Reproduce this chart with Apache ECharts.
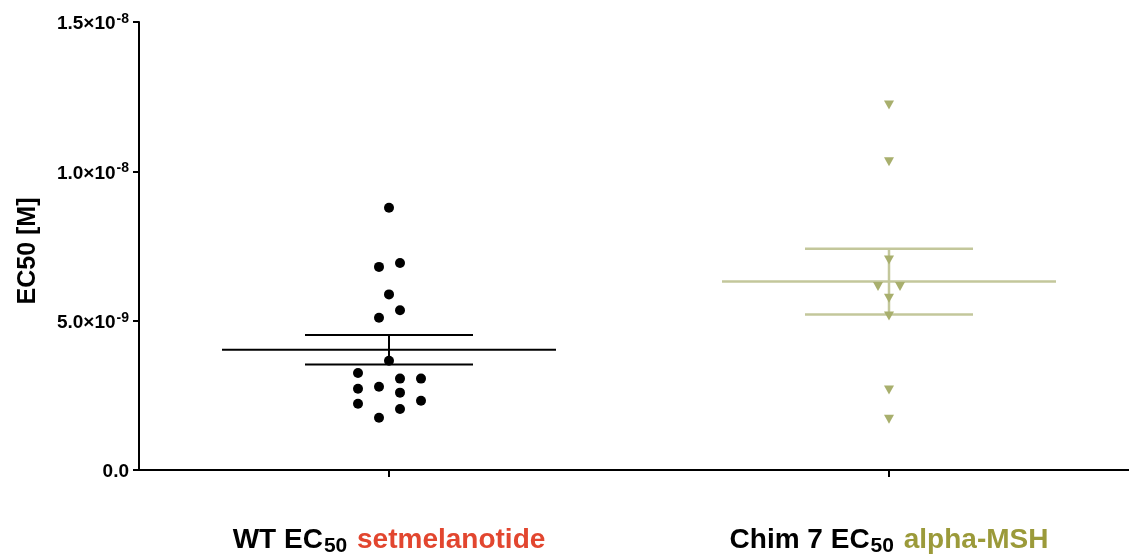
<!DOCTYPE html>
<html>
<head>
<meta charset="utf-8">
<script src="https://cdn.jsdelivr.net/npm/echarts@6/dist/echarts.min.js"></script>
<style>html,body{margin:0;padding:0;background:#fff}#c{width:1129px;height:557px}</style>
</head>
<body>
<div id="c"></div>
<script>
// ---- data ----
const categories = ['WT', 'Chim 7'];
const wtValues = [8.78e-9, 6.80e-9, 6.93e-9, 5.88e-9, 5.35e-9, 5.10e-9, 3.66e-9, 3.25e-9, 2.72e-9, 2.22e-9, 2.79e-9, 1.75e-9, 3.06e-9, 2.59e-9, 2.04e-9, 3.06e-9, 2.32e-9];
const wtJitter  = [0, -0.02, 0.022, 0, 0.022, -0.02, 0, -0.062, -0.062, -0.062, -0.02, -0.02, 0.022, 0.022, 0.022, 0.064, 0.064];
const chimValues = [12.22e-9, 10.32e-9, 7.03e-9, 6.14e-9, 6.14e-9, 5.75e-9, 5.16e-9, 2.68e-9, 1.70e-9];
const chimJitter = [0, 0, 0, -0.022, 0.022, 0, 0, 0, 0];
const means = [4.025e-9, 6.31e-9];
const sems = [0.495e-9, 1.10e-9];
const yTickValues = [0, 5e-9, 1e-8, 1.5e-8];
const yTickMantissa = ['0.0', '5.0', '1.0', '1.5'];
const yTickExponent = ['', '-9', '-8', '-8'];
const xLabelPrefix = ['WT EC', 'Chim 7 EC'];
const xLabelSub = ['50', '50'];
const xLabelAgonist = ['setmelanotide', 'alpha-MSH'];

const FONT = '"Liberation Sans", Arial, Helvetica, sans-serif';
const groupColors = ['#000000', '#a8af6d'];
const statColors = ['#000000', '#c3c79b'];
const agonistColors = ['#e2462f', '#9b9a3a'];

const chart = echarts.init(document.getElementById('c'), null, {renderer: 'canvas'});

const wtData = wtValues.map((v, i) => [0 + wtJitter[i], v]);
const chimData = chimValues.map((v, i) => [1 + chimJitter[i], v]);
const statData = means.map((m, i) => [i, m, sems[i]]);

const xRich = {
  k: {fontFamily: FONT, fontWeight: 'bold', fontSize: 28, color: '#000', lineHeight: 34},
  sub: {fontFamily: FONT, fontWeight: 'bold', fontSize: 21, color: '#000', lineHeight: 14, verticalAlign: 'bottom', padding: [0, 2, 0, 1]},
  a0: {fontFamily: FONT, fontWeight: 'bold', fontSize: 28, color: agonistColors[0], lineHeight: 34},
  a1: {fontFamily: FONT, fontWeight: 'bold', fontSize: 28, color: agonistColors[1], lineHeight: 34}
};

chart.setOption({
  animation: false,
  backgroundColor: '#fff',
  grid: {left: 139, top: 22, bottom: 87, width: 1000, containLabel: false, outerBoundsMode: 'none'},
  xAxis: [{
    type: 'category',
    data: categories,
    axisLine: {show: true, onZero: false, lineStyle: {color: '#000', width: 2}},
    axisTick: {show: true, alignWithLabel: true, length: 7, lineStyle: {color: '#000', width: 2}},
    splitLine: {show: false},
    axisLabel: {
      margin: 53,
      formatter: (v, idx) => `{k|${xLabelPrefix[idx]}}{sub|${xLabelSub[idx]}}{k| }{a${idx}|${xLabelAgonist[idx]}}`,
      rich: xRich
    }
  }, {
    type: 'value', min: -0.5, max: 1.5, show: false
  }],
  yAxis: {
    type: 'value',
    min: 0, max: 1.5e-8, interval: 5e-9,
    name: 'EC50 [M]',
    nameLocation: 'middle',
    nameRotate: 90,
    nameGap: 98,
    nameTextStyle: {fontFamily: FONT, fontWeight: 'bold', fontSize: 25, color: '#000', padding: [0, 10, 0, 0]},
    axisLine: {show: true, onZero: false, lineStyle: {color: '#000', width: 2}},
    axisTick: {show: true, length: 6, lineStyle: {color: '#000', width: 2}},
    splitLine: {show: false},
    axisLabel: {
      margin: 10,
      padding: [4, 0, 0, 0],
      formatter: (v) => {
        let i = yTickValues.findIndex(t => Math.abs(t - v) < 1e-12);
        if (i < 0) return '';
        if (!yTickExponent[i]) return `{b|${yTickMantissa[i]}}`;
        return `{b|${yTickMantissa[i]}×10}{s|${yTickExponent[i]}}`;
      },
      rich: {
        b: {fontFamily: FONT, fontWeight: 'bold', fontSize: 19, color: '#000', lineHeight: 24},
        s: {fontFamily: FONT, fontWeight: 'bold', fontSize: 14, color: '#000', lineHeight: 13, verticalAlign: 'top', padding: [0, 0, 0, 1]}
      }
    }
  },
  series: [{
    type: 'custom',
    xAxisIndex: 1,
    data: statData,
    z: 1,
    renderItem: (params, api) => {
      const i = api.value(0);
      const m = api.value(1);
      const s = api.value(2);
      const c = api.coord([i, m]);
      const up = api.coord([i, m + s])[1];
      const lo = api.coord([i, m - s])[1];
      const unit = api.size([1, 0])[0];
      const hw = unit * 0.334, sw = unit * 0.168;
      const col = statColors[i];
      const lw = i === 0 ? 2 : 2.5;
      const st = {stroke: col, lineWidth: lw, fill: null};
      return {type: 'group', children: [
        {type: 'line', shape: {x1: c[0] - hw, y1: c[1], x2: c[0] + hw, y2: c[1]}, style: st},
        {type: 'line', shape: {x1: c[0] - sw, y1: up, x2: c[0] + sw, y2: up}, style: st},
        {type: 'line', shape: {x1: c[0] - sw, y1: lo, x2: c[0] + sw, y2: lo}, style: st},
        {type: 'line', shape: {x1: c[0], y1: up, x2: c[0], y2: lo}, style: st}
      ]};
    }
  }, {
    type: 'scatter',
    xAxisIndex: 1,
    data: wtData,
    symbol: 'circle',
    symbolSize: 10,
    itemStyle: {color: groupColors[0], opacity: 1},
    z: 3
  }, {
    type: 'scatter',
    xAxisIndex: 1,
    data: chimData,
    symbol: 'triangle',
    symbolRotate: 180,
    symbolSize: [10, 9],
    itemStyle: {color: groupColors[1], opacity: 1},
    z: 3
  }]
});
</script>
</body>
</html>
